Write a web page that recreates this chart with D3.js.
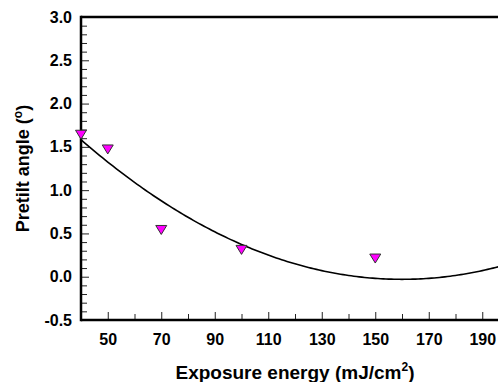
<!DOCTYPE html>
<html>
<head>
<meta charset="utf-8">
<script src="https://cdn.jsdelivr.net/npm/d3@7"></script>
<style>
  body { margin: 0; background: #fff; }
  svg { display: block; font-family: "Liberation Sans", Arial, sans-serif; }
</style>
</head>
<body>
<div id="chart"></div>
<script>
// measured points
const energy = [40, 50, 70, 100, 150];
const pretilt = [1.64, 1.47, 0.54, 0.31, 0.21];

// quadratic fit: y = c0 + c1*x + c2*x^2
const fitCoef = [2.837, -0.03584, 0.000112];

const xTickLabels = [50, 70, 90, 110, 130, 150, 170, 190];
const xMinorTicks = [60, 80, 100, 120, 140, 160, 180, 200];
const yTickLabels = [-0.5, 0.0, 0.5, 1.0, 1.5, 2.0, 2.5, 3.0];

const W = 498, H = 382;
const margin = { top: 17, left: 81, bottom: 62 };
const plotRight = 509; // frame runs past the picture edge

const svg = d3.select('#chart')
  .append('svg')
  .attr('width', W)
  .attr('height', H);

const x = d3.scaleLinear().domain([40, 200]).range([margin.left, plotRight]);
const y = d3.scaleLinear().domain([-0.5, 3.0]).range([H - margin.bottom, margin.top]);

const yMinor = d3.range(-0.5, 3.0001, 0.1).filter(v => Math.abs(v * 2 - Math.round(v * 2)) > 1e-6);

// minor ticks
svg.append('g')
  .attr('transform', `translate(${margin.left},0)`)
  .call(d3.axisLeft(y).tickValues(yMinor).tickSizeInner(-6).tickSizeOuter(0).tickFormat(''))
  .call(g => g.select('.domain').remove());

svg.append('g')
  .attr('transform', `translate(0,${y(-0.5)})`)
  .call(d3.axisBottom(x).tickValues(xMinorTicks).tickSizeInner(-6).tickSizeOuter(0).tickFormat(''))
  .call(g => g.select('.domain').remove());

// major ticks + labels
svg.append('g')
  .attr('transform', `translate(${margin.left},0)`)
  .call(d3.axisLeft(y).tickValues(yTickLabels).tickSizeInner(-8).tickSizeOuter(0)
    .tickPadding(9).tickFormat(d => d.toFixed(1)))
  .call(g => g.select('.domain').remove());

svg.append('g')
  .attr('transform', `translate(0,${y(-0.5)})`)
  .call(d3.axisBottom(x).tickValues(xTickLabels).tickSizeInner(-8).tickSizeOuter(0)
    .tickPadding(14))
  .call(g => g.select('.domain').remove());

svg.selectAll('.tick line').attr('stroke', '#222').attr('stroke-width', 1);
svg.selectAll('.tick text')
  .attr('font-size', 16)
  .attr('font-weight', 'bold')
  .attr('fill', '#000')
  .attr('font-family', '"Liberation Sans", Arial, sans-serif');

// frame
const frame = svg.append('g').attr('stroke', '#000').attr('stroke-width', 2.5).attr('fill', 'none');
frame.append('line').attr('x1', x(40)).attr('x2', plotRight).attr('y1', y(3)).attr('y2', y(3));
frame.append('line').attr('x1', x(40)).attr('x2', plotRight).attr('y1', y(-0.5)).attr('y2', y(-0.5));
frame.append('line').attr('x1', x(40)).attr('x2', x(40)).attr('y1', y(3) - 1.25).attr('y2', y(-0.5) + 1.25);

// fit curve
const fitX = d3.range(40, 200.01, 1);
const fit = v => fitCoef[0] + fitCoef[1] * v + fitCoef[2] * v * v;
svg.append('path')
  .datum(fitX)
  .attr('fill', 'none')
  .attr('stroke', '#000')
  .attr('stroke-width', 1.6)
  .attr('d', d3.line().x(d => x(d)).y(d => y(fit(d))));

// down triangles
const tri = 'M-5.5,-4.5L5.5,-4.5L0,4.5Z';
svg.selectAll('.pt')
  .data(energy.map((e, i) => [e, pretilt[i]]))
  .enter()
  .append('path')
  .attr('class', 'pt')
  .attr('d', tri)
  .attr('transform', d => `translate(${x(d[0])},${y(d[1])})`)
  .attr('fill', '#ff00ff')
  .attr('stroke', '#333')
  .attr('stroke-width', 1);

// axis titles
svg.append('text')
  .attr('x', (x(40) + plotRight) / 2)
  .attr('y', 379)
  .attr('text-anchor', 'middle')
  .attr('font-size', 19)
  .attr('font-weight', 'bold')
  .text('Exposure energy (mJ/cm')
  .append('tspan').attr('dy', -8).attr('font-size', 12).text('2')
  .select(function () { return this.parentNode; })
  .append('tspan').attr('dy', 8).text(')');

svg.append('text')
  .attr('transform', `translate(29,${(y(3) + y(-0.5)) / 2}) rotate(-90)`)
  .attr('text-anchor', 'middle')
  .attr('font-size', 18)
  .attr('font-weight', 'bold')
  .text('Pretilt angle (')
  .append('tspan').attr('dy', -7).attr('font-size', 12).text('o')
  .select(function () { return this.parentNode; })
  .append('tspan').attr('dy', 7).text(')');
</script>
</body>
</html>
